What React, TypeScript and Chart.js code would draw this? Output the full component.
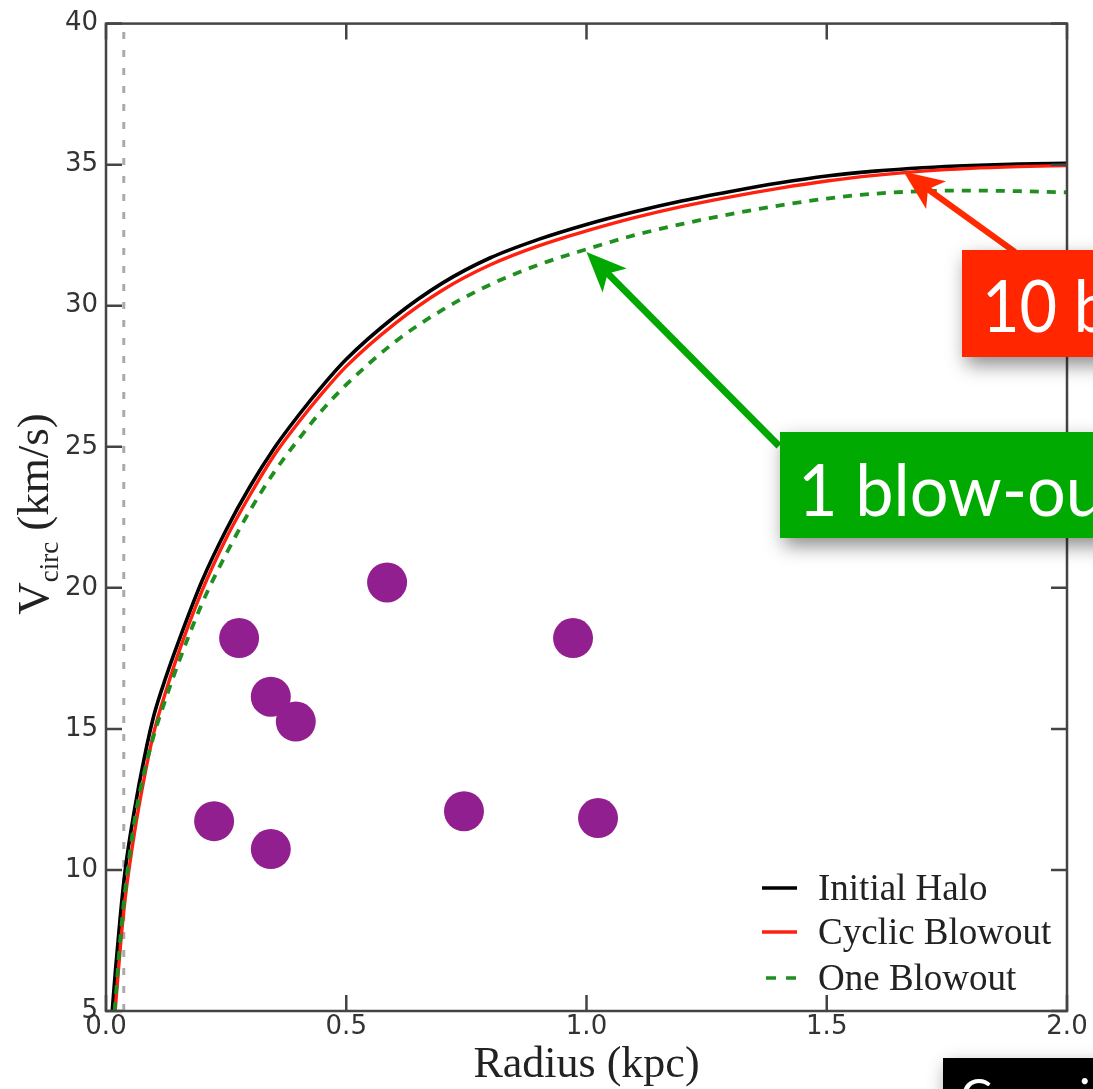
import React, { useEffect, useRef } from "react";
import { Chart, registerables } from "chart.js";

Chart.register(...registerables);

// ---------- data ----------
const initialHaloR = [0.013, 0.02, 0.03, 0.04, 0.06, 0.08, 0.1, 0.125, 0.15, 0.2, 0.25, 0.3, 0.35, 0.4, 0.45, 0.5, 0.6, 0.7, 0.8, 0.9, 1.0, 1.1, 1.2, 1.3, 1.4, 1.5, 1.6, 1.7, 1.8, 1.9, 2.0];
const initialHaloV = [5.0, 6.5, 8.4, 10.0, 12.2, 14.0, 15.5, 16.85, 18.05, 20.25, 22.05, 23.6, 24.95, 26.1, 27.15, 28.1, 29.6, 30.8, 31.7, 32.35, 32.88, 33.33, 33.72, 34.05, 34.35, 34.6, 34.77, 34.89, 34.97, 35.02, 35.05];

const cyclicR = [0.019, 0.03, 0.04, 0.06, 0.08, 0.1, 0.125, 0.15, 0.2, 0.25, 0.3, 0.35, 0.4, 0.45, 0.5, 0.6, 0.7, 0.8, 0.9, 1.0, 1.1, 1.2, 1.3, 1.4, 1.5, 1.6, 1.7, 1.8, 1.9, 2.0];
const cyclicV = [5.0, 7.3, 9.0, 11.4, 13.3, 14.9, 16.35, 17.65, 19.9, 21.75, 23.3, 24.7, 25.85, 26.9, 27.85, 29.35, 30.55, 31.45, 32.12, 32.65, 33.12, 33.52, 33.86, 34.16, 34.42, 34.62, 34.77, 34.87, 34.93, 34.97];

const oneBlowR = [0.018, 0.03, 0.04, 0.06, 0.08, 0.1, 0.125, 0.15, 0.2, 0.25, 0.3, 0.35, 0.4, 0.45, 0.5, 0.6, 0.7, 0.8, 0.9, 1.0, 1.1, 1.2, 1.3, 1.4, 1.5, 1.6, 1.7, 1.8, 1.9, 2.0];
const oneBlowV = [5.0, 7.6, 9.3, 11.8, 13.5, 14.8, 16.1, 17.3, 19.45, 21.2, 22.75, 24.1, 25.25, 26.3, 27.2, 28.7, 29.85, 30.75, 31.45, 32.0, 32.5, 32.9, 33.25, 33.55, 33.8, 33.97, 34.06, 34.08, 34.06, 34.02];

const obsR = [0.277, 0.585, 0.972, 0.343, 0.395, 0.225, 0.343, 0.745, 1.024];
const obsV = [18.22, 20.19, 18.22, 16.14, 15.26, 11.73, 10.74, 12.08, 11.84];

const softeningR = 0.037;
const softeningV = [5, 40];

const xTicks = [0, 0.5, 1.0, 1.5, 2.0];
const yTicks = [5, 10, 15, 20, 25, 30, 35, 40];

const legendLabels = ["Initial Halo", "Cyclic Blowout", "One Blowout"];
const seriesColors = ["#000000", "#ff2010", "#1f8f1f"];

const redCallout = "10 blow-outs";
const greenCallout = "1 blow-out";
const blackCallout = "Cosmic";
const redArrowTip = { r: 1.66, v: 34.75 };
const greenArrowTip = { r: 1.0, v: 31.9 };

const xTitle = "Radius (kpc)";
const yTitleMain = "V";
const yTitleSub = "circ";
const yTitleRest = " (km/s)";

const toPts = (rs: number[], vs: number[]) => rs.map((r, i) => ({ x: r, y: vs[i] }));

function drawArrow(ctx: CanvasRenderingContext2D, x0: number, y0: number, x1: number, y1: number, color: string, width: number) {
  const dx = x1 - x0;
  const dy = y1 - y0;
  const len = Math.hypot(dx, dy);
  const ux = dx / len;
  const uy = dy / len;
  const px = -uy;
  const py = ux;
  const headLen = 40;
  const notch = 30;
  const half = 17;
  ctx.save();
  ctx.strokeStyle = color;
  ctx.fillStyle = color;
  ctx.lineWidth = width;
  ctx.lineCap = "butt";
  ctx.beginPath();
  ctx.moveTo(x0, y0);
  ctx.lineTo(x1 - ux * notch, y1 - uy * notch);
  ctx.stroke();
  ctx.beginPath();
  ctx.moveTo(x1, y1);
  ctx.lineTo(x1 - ux * headLen + px * half, y1 - uy * headLen + py * half);
  ctx.lineTo(x1 - ux * notch, y1 - uy * notch);
  ctx.lineTo(x1 - ux * headLen - px * half, y1 - uy * headLen - py * half);
  ctx.closePath();
  ctx.fill();
  ctx.restore();
}

function drawBox(ctx: CanvasRenderingContext2D, x: number, y: number, w: number, h: number, color: string) {
  ctx.save();
  ctx.shadowColor = "rgba(0,0,0,0.45)";
  ctx.shadowBlur = 18;
  ctx.shadowOffsetX = 4;
  ctx.shadowOffsetY = 8;
  ctx.fillStyle = color;
  ctx.fillRect(x, y, w, h);
  ctx.restore();
}

function drawCondensed(ctx: CanvasRenderingContext2D, text: string, x: number, y: number, sx: number) {
  ctx.save();
  ctx.translate(x, y);
  ctx.scale(sx, 1);
  ctx.fillText(text, 0, 0);
  ctx.restore();
}

const framePlugin = {
  id: "mplFrame",
  afterDatasetsDraw(chart: any) {
    const ctx: CanvasRenderingContext2D = chart.ctx;
    const { left, right, top, bottom } = chart.chartArea;
    const xs = chart.scales.x;
    const ys = chart.scales.y;
    ctx.save();
    ctx.strokeStyle = "#444444";
    ctx.lineWidth = 2.5;
    ctx.strokeRect(left, top, right - left, bottom - top);
    ctx.lineWidth = 2.5;
    const tl = 16;
    ctx.beginPath();
    xTicks.forEach((v) => {
      const px = xs.getPixelForValue(v);
      ctx.moveTo(px, bottom);
      ctx.lineTo(px, bottom - tl);
      ctx.moveTo(px, top);
      ctx.lineTo(px, top + tl);
    });
    yTicks.forEach((v) => {
      const py = ys.getPixelForValue(v);
      ctx.moveTo(left, py);
      ctx.lineTo(left + tl, py);
      ctx.moveTo(right, py);
      ctx.lineTo(right - tl, py);
    });
    ctx.stroke();
    ctx.restore();
  },
  afterDraw(chart: any) {
    const ctx: CanvasRenderingContext2D = chart.ctx;
    const { left, right } = chart.chartArea;
    const xs = chart.scales.x;
    const ys = chart.scales.y;
    ctx.save();

    // axis titles
    ctx.fillStyle = "#222222";
    ctx.font = '44px "Liberation Serif"';
    ctx.textAlign = "center";
    ctx.textBaseline = "alphabetic";
    ctx.fillText(xTitle, (left + right) / 2, 1077);

    ctx.save();
    ctx.translate(48, 514);
    ctx.rotate(-Math.PI / 2);
    ctx.textAlign = "left";
    const mainFont = '45px "Liberation Serif"';
    const subFont = '27px "Liberation Serif"';
    ctx.font = mainFont;
    const wV = ctx.measureText(yTitleMain).width;
    const wR = ctx.measureText(yTitleRest).width;
    ctx.font = subFont;
    const wS = ctx.measureText(yTitleSub).width;
    const total = wV + wS + wR;
    let cx = -total / 2;
    ctx.font = mainFont;
    ctx.fillText(yTitleMain, cx, 0);
    cx += wV;
    ctx.font = subFont;
    ctx.fillText(yTitleSub, cx, 10);
    cx += wS;
    ctx.font = mainFont;
    ctx.fillText(yTitleRest, cx, 0);
    ctx.restore();

    // legend
    const rowsY = [900, 944, 990];
    ctx.font = '37px "Liberation Serif"';
    ctx.textAlign = "left";
    legendLabels.forEach((lab, i) => {
      const yMid = rowsY[i] - 12;
      ctx.strokeStyle = seriesColors[i];
      ctx.lineWidth = 3.5;
      ctx.beginPath();
      if (i === 2) {
        ctx.moveTo(766, yMid);
        ctx.lineTo(776, yMid);
        ctx.moveTo(786, yMid);
        ctx.lineTo(796, yMid);
      } else {
        ctx.moveTo(762, yMid);
        ctx.lineTo(797, yMid);
      }
      ctx.stroke();
      ctx.fillStyle = "#222222";
      ctx.fillText(lab, 818, rowsY[i]);
    });

    // callout arrows
    drawArrow(ctx, 1015, 252, xs.getPixelForValue(redArrowTip.r), ys.getPixelForValue(redArrowTip.v), "#ff2a00", 6);
    drawArrow(ctx, 779, 446, xs.getPixelForValue(greenArrowTip.r), ys.getPixelForValue(greenArrowTip.v), "#00a800", 7);

    // callout boxes
    drawBox(ctx, 962, 250, 160, 107, "#ff2600");
    drawBox(ctx, 780, 432, 340, 106, "#00aa00");
    drawBox(ctx, 943, 1058, 170, 60, "#000000");

    ctx.fillStyle = "#ffffff";
    ctx.font = '72px Lato';
    ctx.textAlign = "left";
    drawCondensed(ctx, redCallout, 982, 332, 0.9);
    drawCondensed(ctx, greenCallout, 798, 516, 0.95);
    ctx.font = '48px Lato';
    ctx.fillText(blackCallout, 960, 1114);

    ctx.restore();
  },
};

export default function App() {
  const canvasRef = useRef<HTMLCanvasElement | null>(null);

  useEffect(() => {
    const canvas = canvasRef.current;
    if (!canvas) return;
    const tickFont = { family: '"DejaVu Sans"', size: 26 };
    const chart = new Chart(canvas, {
      type: "scatter",
      data: {
        datasets: [
          {
            label: "softening",
            data: softeningV.map((v) => ({ x: softeningR, y: v })),
            showLine: true,
            borderColor: "#aaaaaa",
            borderWidth: 3,
            borderDash: [7, 11],
            pointRadius: 0,
            order: 5,
          },
          {
            label: legendLabels[0],
            data: toPts(initialHaloR, initialHaloV),
            showLine: true,
            borderColor: seriesColors[0],
            borderWidth: 3.6,
            pointRadius: 0,
            cubicInterpolationMode: "monotone",
            order: 4,
          },
          {
            label: legendLabels[1],
            data: toPts(cyclicR, cyclicV),
            showLine: true,
            borderColor: seriesColors[1],
            borderWidth: 3.4,
            pointRadius: 0,
            cubicInterpolationMode: "monotone",
            order: 3,
          },
          {
            label: legendLabels[2],
            data: toPts(oneBlowR, oneBlowV),
            showLine: true,
            borderColor: seriesColors[2],
            borderWidth: 3.8,
            borderDash: [9, 8],
            pointRadius: 0,
            cubicInterpolationMode: "monotone",
            order: 2,
          },
          {
            label: "observed",
            data: toPts(obsR, obsV),
            showLine: false,
            pointRadius: 20,
            pointBackgroundColor: "#921f8f",
            pointBorderWidth: 0,
            borderColor: "#921f8f",
            order: 1,
          },
        ],
      },
      options: {
        animation: false,
        responsive: false,
        events: [],
        layout: { padding: { left: 0, top: 18, right: 26, bottom: 0 } },
        plugins: {
          legend: { display: false },
          tooltip: { enabled: false },
          title: { display: false },
        },
        scales: {
          x: {
            type: "linear",
            min: 0,
            max: 2,
            afterFit: (s: any) => {
              s.height = 78;
            },
            afterBuildTicks: (s: any) => {
              s.ticks = xTicks.map((v) => ({ value: v }));
            },
            ticks: {
              font: tickFont,
              color: "#333333",
              padding: 1,
              maxRotation: 0,
              autoSkip: false,
              callback: (v: any) => Number(v).toFixed(1),
            },
            grid: { display: false, drawTicks: false },
            border: { display: false },
          },
          y: {
            type: "linear",
            min: 5,
            max: 40,
            afterFit: (s: any) => {
              s.width = 106;
            },
            afterBuildTicks: (s: any) => {
              s.ticks = yTicks.map((v) => ({ value: v }));
            },
            ticks: {
              font: tickFont,
              color: "#333333",
              padding: 8,
              autoSkip: false,
              callback: (v: any) => String(v),
            },
            grid: { display: false, drawTicks: false },
            border: { display: false },
          },
        },
      },
      plugins: [framePlugin],
    } as any);
    return () => chart.destroy();
  }, []);

  return (
    <div style={{ position: "absolute", left: 0, top: 0, width: 1093, height: 1089, background: "#ffffff", overflow: "hidden" }}>
      <canvas ref={canvasRef} width={1093} height={1089} style={{ display: "block" }} />
    </div>
  );
}
